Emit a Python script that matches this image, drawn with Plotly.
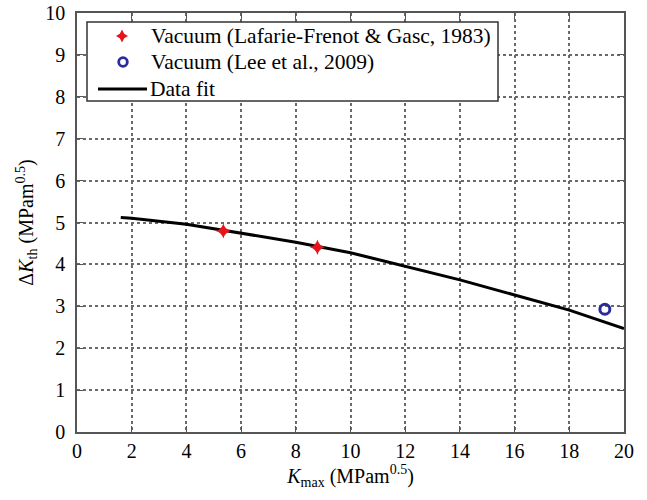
import plotly.graph_objects as go

# Data
lafarie_x = [5.35, 8.79]
lafarie_y = [4.80, 4.41]
lee_x = [19.3]
lee_y = [2.93]
fit_x = [1.6, 2, 4, 6, 8, 10, 12, 14, 16, 18, 20]
fit_y = [5.12, 5.10, 4.96, 4.75, 4.53, 4.28, 3.95, 3.63, 3.27, 2.91, 2.47]
x_ticks = [0, 2, 4, 6, 8, 10, 12, 14, 16, 18, 20]
y_ticks = [0, 1, 2, 3, 4, 5, 6, 7, 8, 9, 10]
legend_labels = ["Vacuum (Lafarie-Frenot &amp; Gasc, 1983)",
                 "Vacuum (Lee et al., 2009)",
                 "Data fit"]

FONT = "Liberation Serif"
RED = "#e8141c"
BLUE = "#2a2c9c"

# plot area in pixels (for placing the legend box)
L, R, T, B = 77, 624, 13, 432
W, H = 647, 500


def px(x):
    return (x - L) / (R - L)


def py(y):
    return (B - y) / (B - T)


fig = go.Figure()
fig.add_trace(go.Scatter(
    x=fit_x, y=fit_y, mode="lines", name=legend_labels[2],
    line=dict(color="black", width=3)))
fig.add_trace(go.Scatter(
    x=lafarie_x, y=lafarie_y, mode="markers", name=legend_labels[0],
    marker=dict(symbol="star-diamond", size=11, color=RED,
                line=dict(width=0))))
fig.add_trace(go.Scatter(
    x=lee_x, y=lee_y, mode="markers", name=legend_labels[1],
    marker=dict(symbol="circle-open", size=10, color=BLUE,
                line=dict(width=3, color=BLUE))))

axis_common = dict(
    showgrid=True, gridcolor="#6a6a6a", griddash="dot", gridwidth=1.5,
    showline=True, linecolor="#555555", linewidth=1.5, mirror="allticks",
    ticks="inside", ticklen=6, tickcolor="#555555", tickwidth=1,
    zeroline=False, automargin=False,
    tickfont=dict(family=FONT, size=20, color="black"),
)

fig.update_xaxes(
    range=[0, 20], tickvals=x_ticks, ticktext=[str(v) for v in x_ticks],
    title=dict(text="<i>K</i><sub>max</sub> (MPam<sup>0.5</sup>)",
               font=dict(family=FONT, size=20, color="black"), standoff=8),
    **axis_common)
fig.update_yaxes(
    range=[0, 10], tickvals=y_ticks, ticktext=[str(v) for v in y_ticks],
    ticklabelstandoff=6,
    title=dict(text="Δ<i>K</i><sub>th</sub> (MPam<sup>0.5</sup>)",
               font=dict(family=FONT, size=20, color="black"), standoff=6),
    **axis_common)

# ---- legend (frame, keys and labels) ----
fig.add_shape(
    type="rect", xref="paper", yref="paper",
    x0=px(87), x1=px(498), y0=py(101), y1=py(22),
    fillcolor="white", line=dict(color="#333333", width=1.5),
    layer="above")

row_y = [36, 62, 89]
key_x = 122
# red star key
fig.add_shape(
    type="path", xref="paper", yref="paper",
    xsizemode="pixel", ysizemode="pixel",
    xanchor=px(key_x), yanchor=py(row_y[0]),
    path="M0,6.5 L2.2,2.2 L6,0 L2.2,-2.2 L0,-6.5 L-2.2,-2.2 L-6,0 L-2.2,2.2 Z",
    fillcolor=RED, line=dict(width=0), layer="above")
# blue circle key
fig.add_shape(
    type="circle", xref="paper", yref="paper",
    xsizemode="pixel", ysizemode="pixel",
    xanchor=px(key_x + 1), yanchor=py(row_y[1]),
    x0=-4.3, x1=4.3, y0=-4.3, y1=4.3,
    line=dict(color=BLUE, width=2.8), fillcolor="rgba(0,0,0,0)",
    layer="above")
# black line key
fig.add_shape(
    type="line", xref="paper", yref="paper",
    x0=px(98), x1=px(147), y0=py(row_y[2]), y1=py(row_y[2]),
    line=dict(color="black", width=3), layer="above")

for lab, yy, xx in zip(legend_labels, row_y, [150, 150, 149]):
    fig.add_annotation(
        x=px(xx), y=py(yy), xref="paper", yref="paper",
        text=lab, showarrow=False, xanchor="left", yanchor="middle",
        font=dict(family=FONT, size=21.5, color="black"), borderpad=0)

fig.update_layout(
    width=W, height=H,
    margin=dict(l=L, r=W - R, t=T, b=H - B, autoexpand=False),
    plot_bgcolor="white", paper_bgcolor="white",
    font=dict(family=FONT, size=20, color="black"),
    showlegend=False,
)

fig.write_html("out.html")
